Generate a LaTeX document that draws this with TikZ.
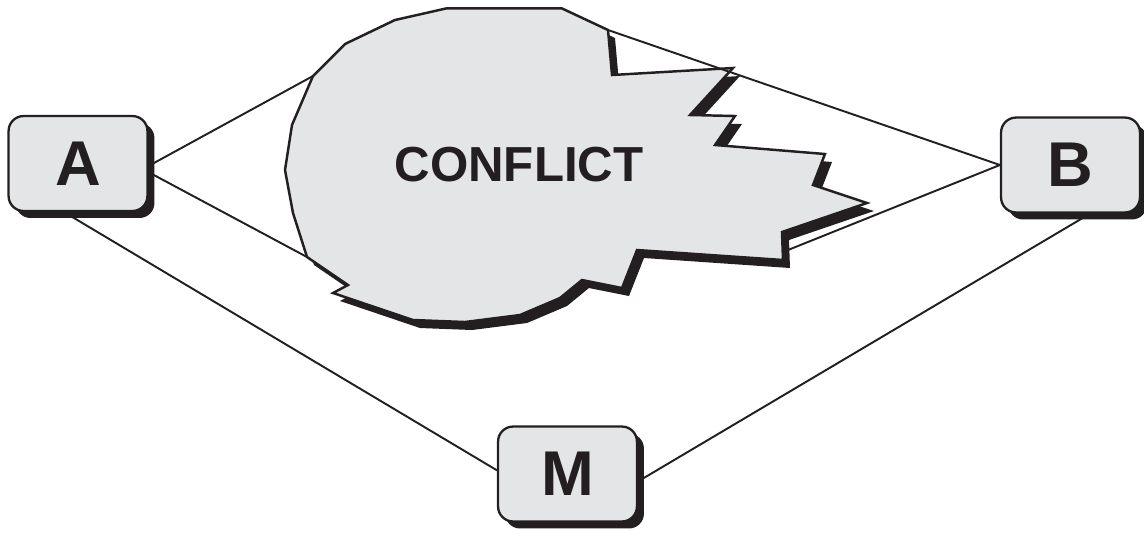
\documentclass[tikz,border=0pt]{standalone}
\usepackage{fontspec}
\setmainfont{Liberation Sans}
\usepackage{tikz}
\usetikzlibrary{shapes,shadows}
\definecolor{ink}{RGB}{35,31,32}
\definecolor{cloud}{RGB}{228,229,231}
\newcommand{\blastpath}{(44.67,-0.83) -- (56.17,-0.83) -- (60.8,-3.0) -- (61.2,-7.5) -- (73.3,-6.8) -- (69.0,-11.5) -- (73.5,-11.6) -- (71.5,-14.5) -- (82.5,-15.4) -- (81.3,-18.5) -- (86.7,-20.3) -- (78.2,-23.2) -- (78.3,-26.0) -- (63.7,-25.0) -- (62.2,-28.8) -- (58.2,-28.0) -- (56.0,-29.8) -- (52.0,-31.5) -- (46.5,-32.2) -- (41.3,-32.0) -- (33.3,-29.3) -- (34.8,-28.5) -- (30.7,-25.7) -- (29.3,-21.3) -- (28.5,-17.0) -- (29.2,-12.5) -- (31.3,-7.6) -- (34.5,-4.4) -- (39.5,-2.0) -- cycle}

\begin{document}
\begin{tikzpicture}[scale=0.2]
                \tikzstyle{every node}+=[inner sep=0pt]
                \tikzstyle{party}=[draw=ink, line width=1.3pt, fill=cloud, rounded corners=8.5pt, minimum width=79pt, minimum height=54pt, drop shadow={opacity=1, fill=ink, shadow xshift=4pt, shadow yshift=-4pt}, text=ink, font=\fontsize{36}{36}\selectfont\bfseries]
                \tikzstyle{tie}=[ink, line width=1.1pt]
                \useasboundingbox (0,0) rectangle (114.4,-53.4);
                \fill [ink, xshift=0.7cm, yshift=-0.8cm] \blastpath;
                \draw [ink, fill=cloud, line width=1.4pt, line join=miter] \blastpath;
                \node [text=ink, font=\fontsize{28}{28}\selectfont\bfseries] (conflict) at (51.9,-16.5) {CONFLICT};
                \coordinate (rimAtop) at (31.3,-7.6);
                \coordinate (rimAbot) at (30.7,-25.7);
                \coordinate (rimBtop) at (60.8,-3.0);
                \coordinate (rimBbot) at (78.8,-25.0);
                \node [party] (A) at (7.8,-16.35) {A};
                \node [party] (B) at (107.05,-16.5) {B};
                \node [party] (M) at (56.75,-47.4) {M};
                \draw [tie] (A.-2) -- (rimAtop);
                \draw [tie] (A.-7) -- (rimAbot);
                \draw [tie] (B.west) -- (rimBtop);
                \draw [tie] (B.west) -- (rimBbot);
                \draw [tie] (A.-106) -- (M.177);
                \draw [tie] (B.-68) -- (M.-6);
            \end{tikzpicture}
\end{document}
